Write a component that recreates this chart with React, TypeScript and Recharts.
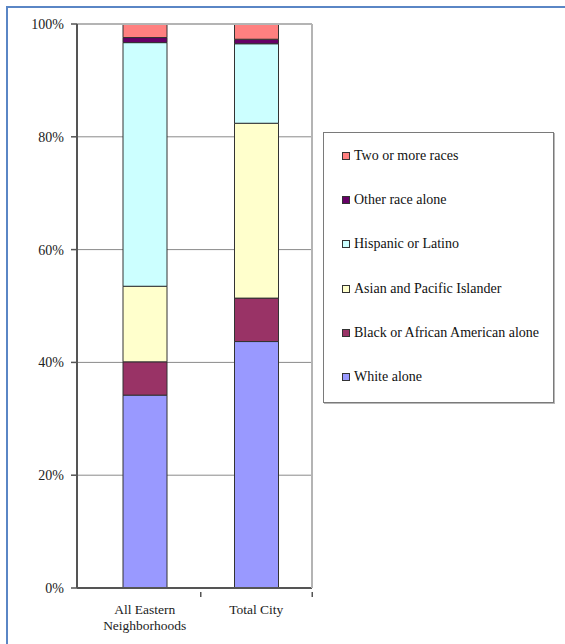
import { Bar, BarChart, CartesianGrid, Legend, ReferenceLine, XAxis, YAxis } from 'recharts';

// share of population by race / ethnicity, in percent
const areas = ['All Eastern Neighborhoods', 'Total City'];
const areaLabelLines = [['All Eastern', 'Neighborhoods'], ['Total City']];
const whiteAlone = [34.2, 43.7];
const blackAlone = [5.9, 7.7];
const asianPacific = [13.4, 31.0];
const hispanicLatino = [43.2, 14.1];
const otherRace = [0.9, 0.8];
const twoOrMore = [2.4, 2.7];
const yTicks = [0, 20, 40, 60, 80, 100];

const FONT = '"Liberation Serif", "Times New Roman", serif';

// bottom of the stack first
const series = [
  { key: 'white', name: 'White alone', values: whiteAlone, color: '#9999ff' },
  { key: 'black', name: 'Black or African American alone', values: blackAlone, color: '#993366' },
  { key: 'asian', name: 'Asian and Pacific Islander', values: asianPacific, color: '#ffffcc' },
  { key: 'hispanic', name: 'Hispanic or Latino', values: hispanicLatino, color: '#ccffff' },
  { key: 'other', name: 'Other race alone', values: otherRace, color: '#660066' },
  { key: 'two', name: 'Two or more races', values: twoOrMore, color: '#ff8080' },
];

const data = areas.map((area, i) => {
  const row: Record<string, string | number> = { area };
  series.forEach((s) => {
    row[s.key] = s.values[i];
  });
  return row;
});

const HALF_BAND = 56;

function AreaTick(props: any) {
  const { x, y, index } = props;
  const lines = areaLabelLines[index] ?? [];
  const axisY = y - 4;
  return (
    <g>
      <line x1={x + HALF_BAND} x2={x + HALF_BAND} y1={axisY} y2={axisY + 5} stroke="#555" strokeWidth={1.5} />
      <text x={x} y={axisY} textAnchor="middle" fontFamily={FONT} fontSize={13.5} fill="#222">
        {lines.map((line, i) => (
          <tspan key={line} x={x} dy={i === 0 ? 22 : 16}>
            {line}
          </tspan>
        ))}
      </text>
    </g>
  );
}

function LegendBox() {
  return (
    <div
      style={{
        width: 231,
        height: 271,
        boxSizing: 'border-box',
        border: '1px solid #7a7a7a',
        boxShadow: '1px 1px 0 #b8b8b8',
        background: '#fff',
        paddingTop: 1,
      }}
    >
      {[...series].reverse().map((s) => (
        <div key={s.key} style={{ display: 'flex', alignItems: 'center', height: 44.2, paddingLeft: 18 }}>
          <span
            style={{
              width: 6,
              height: 6,
              background: s.color,
              border: '1px solid #333',
              marginRight: 4,
              flex: 'none',
            }}
          />
          <span style={{ fontFamily: FONT, fontSize: 14, color: '#111', whiteSpace: 'nowrap', lineHeight: '14px' }}>
            {s.name}
          </span>
        </div>
      ))}
    </div>
  );
}

export default function App() {
  return (
    <div style={{ position: 'absolute', left: 0, top: 0, width: 565, height: 644, background: '#fff', overflow: 'hidden' }}>
      <div
        style={{
          position: 'absolute',
          left: 6,
          top: 6,
          width: 700,
          height: 800,
          borderLeft: '2px solid #5a86c5',
          borderTop: '2px solid #5a86c5',
        }}
      />
      <BarChart
        width={565}
        height={644}
        data={data}
        margin={{ top: 24, right: 252, bottom: 0, left: 0 }}
        barSize={44}
        style={{ position: 'absolute', left: 0, top: 0 }}
      >
        <CartesianGrid horizontal vertical={false} stroke="#8a8a8a" strokeWidth={1} />
        <ReferenceLine y={100} stroke="#b4b4b4" strokeWidth={2} />
        <XAxis
          dataKey="area"
          height={56}
          interval={0}
          padding={{ left: 12, right: 0 }}
          axisLine={{ stroke: '#555', strokeWidth: 2 }}
          tickLine={false}
          tick={<AreaTick />}
        />
        <YAxis
          domain={[0, 100]}
          ticks={yTicks}
          width={77}
          tickFormatter={(v: number) => `${v}%`}
          axisLine={{ stroke: '#555', strokeWidth: 2 }}
          tickLine={{ stroke: '#555', strokeWidth: 1.5 }}
          tickSize={6}
          tickMargin={7}
          tick={{ fontFamily: FONT, fontSize: 14, fill: '#222' }}
        />
        <YAxis
          yAxisId="frame"
          orientation="right"
          domain={[0, 100]}
          width={1}
          tick={false}
          tickLine={false}
          axisLine={{ stroke: '#b4b4b4', strokeWidth: 2 }}
        />
        {series.map((s) => (
          <Bar
            key={s.key}
            dataKey={s.key}
            name={s.name}
            stackId="race"
            fill={s.color}
            stroke="#333"
            strokeWidth={1}
            isAnimationActive={false}
          />
        ))}
        <Legend
          layout="horizontal"
          verticalAlign="middle"
          align="center"
          content={() => <LegendBox />}
          wrapperStyle={{ position: 'absolute', left: 323, top: 132, width: 232, height: 272 }}
        />
      </BarChart>
    </div>
  );
}
